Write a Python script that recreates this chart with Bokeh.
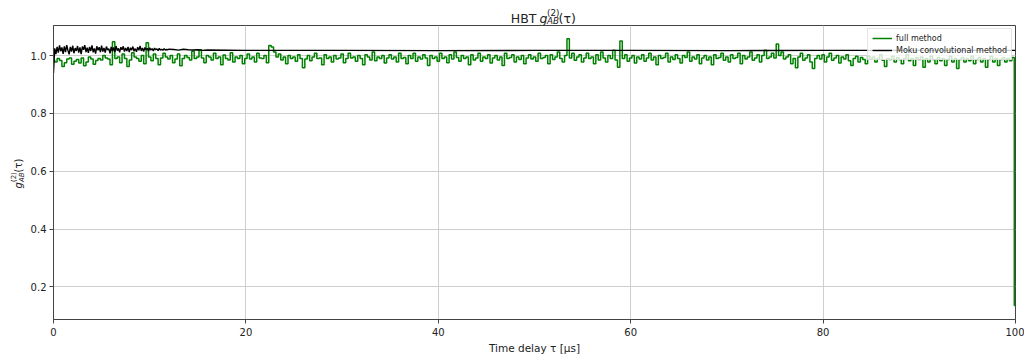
import math
from bokeh.plotting import figure
from bokeh.layouts import row, column
from bokeh.models import Range1d, Legend, LegendItem, FixedTicker, PrintfTickFormatter
from bokeh.core.properties import value
from bokeh.embed import file_html
from bokeh.resources import INLINE

# ---- data ----
# full method, sampled every 0.25 us from 0 to 100
green_y = [
    0.985, 0.978, 0.990, 0.983, 0.962, 0.975, 0.988, 0.992, 0.970, 0.980,
    0.986, 0.974, 0.992, 0.965, 0.978, 0.995, 0.988, 0.970, 0.983, 0.990,
    0.985, 1.000, 0.992, 0.988, 0.968, 1.048, 0.990, 0.995, 0.975, 1.005,
    0.990, 0.962, 0.985, 1.010, 0.995, 0.990, 0.980, 1.000, 0.972, 1.044,
    0.995, 0.982, 1.005, 0.990, 0.968, 0.992, 1.008, 0.995, 0.988, 1.000,
    0.975, 0.988, 1.005, 0.965, 0.990, 1.000, 0.993, 0.985, 1.015, 0.990,
    0.995, 1.020, 0.992, 0.975, 1.000, 0.995, 0.985, 1.008, 0.990, 0.995,
    0.968, 1.002, 0.990, 0.985, 1.010, 0.978, 0.995, 0.990, 1.000, 0.972,
    0.990, 1.005, 0.988, 0.995, 0.978, 1.008, 0.992, 0.990, 1.000, 0.975,
    1.035, 1.030, 1.012, 0.995, 1.005, 0.985, 0.995, 0.972, 1.000, 0.990,
    0.995, 0.980, 1.003, 0.990, 0.958, 0.988, 1.000, 0.982, 0.995, 1.008,
    0.990, 0.992, 0.968, 1.003, 0.990, 0.995, 0.978, 1.000, 0.988, 0.992,
    1.005, 0.975, 0.990, 1.008, 0.992, 0.995, 0.980, 1.000, 0.990, 0.968,
    1.003, 0.995, 0.985, 1.012, 0.982, 0.995, 0.990, 1.000, 0.974, 0.992,
    1.003, 0.988, 0.995, 0.978, 1.008, 0.990, 0.993, 0.972, 1.000, 0.990,
    1.008, 0.980, 0.995, 0.988, 1.003, 0.992, 0.966, 1.000, 0.990, 0.995,
    0.980, 1.008, 0.990, 0.995, 0.975, 1.003, 0.988, 1.012, 0.993, 0.980,
    1.000, 0.990, 0.995, 0.968, 1.003, 0.985, 0.992, 1.008, 0.980, 0.995,
    0.990, 1.003, 0.974, 0.992, 1.000, 0.985, 0.995, 0.966, 1.008, 0.990,
    0.993, 1.003, 0.978, 0.995, 0.986, 1.000, 0.972, 0.992, 1.003, 0.988,
    0.995, 0.980, 1.008, 0.990, 0.993, 1.000, 0.972, 1.003, 0.986, 0.995,
    1.012, 0.990, 0.978, 1.000, 1.058, 0.992, 1.008, 0.984, 0.995, 1.003,
    0.978, 0.992, 1.008, 0.990, 0.995, 0.972, 1.003, 0.985, 1.012, 0.992,
    0.978, 1.000, 0.990, 1.018, 0.985, 0.960, 1.050, 0.990, 1.003, 0.980,
    0.992, 1.000, 0.974, 0.995, 0.988, 1.003, 0.980, 0.992, 1.008, 0.985,
    0.995, 0.968, 1.000, 0.990, 0.993, 1.008, 0.978, 0.995, 0.986, 1.003,
    0.990, 0.974, 1.000, 0.993, 1.012, 0.980, 0.995, 0.988, 1.003, 0.972,
    0.992, 1.000, 0.985, 0.995, 0.968, 1.003, 0.990, 0.993, 1.008, 0.984,
    0.995, 0.978, 1.003, 0.990, 0.993, 1.008, 0.972, 1.000, 0.988, 0.995,
    1.012, 0.984, 0.992, 1.003, 0.978, 1.000, 1.018, 0.990, 0.995, 1.008,
    0.992, 1.040, 1.000, 1.012, 0.988, 0.995, 1.003, 0.972, 0.990, 0.958,
    0.995, 1.008, 0.984, 0.992, 1.003, 0.978, 0.955, 0.990, 1.000, 0.988,
    1.003, 0.978, 0.995, 1.008, 0.984, 0.992, 1.000, 0.974, 0.995, 0.988,
    1.003, 0.982, 0.966, 0.990, 0.998, 0.978, 0.993, 0.986, 0.972, 0.998,
    0.988, 0.995, 0.978, 0.990, 1.003, 0.984, 0.962, 0.990, 0.986, 0.998,
    0.978, 0.993, 0.986, 0.972, 0.990, 1.003, 0.982, 0.990, 0.966, 0.993,
    0.986, 0.995, 0.960, 0.990, 0.978, 0.998, 0.986, 0.972, 0.993, 0.982,
    0.990, 0.966, 0.986, 0.998, 0.978, 0.990, 0.955, 0.986, 0.993, 0.978,
    0.990, 0.982, 0.998, 0.972, 0.986, 0.993, 0.978, 0.990, 0.960, 0.986,
    0.998, 0.978, 0.990, 0.966, 0.986, 0.993, 0.978, 0.990, 0.982, 0.993,
    0.135,
]
green_x = [i * 0.25 for i in range(len(green_y))]

# Moku convolutional method: dense at the start, flat afterwards
black_y_head = [
    0.940, 1.025, 1.005, 1.030, 1.010, 1.035, 1.015, 1.028, 1.006, 1.032,
    1.012, 1.036, 1.018, 1.004, 1.030, 1.014, 1.034, 1.008, 1.026, 1.016,
    1.033, 1.010, 1.028, 1.005, 1.031, 1.020, 1.036, 1.012, 1.027, 1.009,
    1.030, 1.016, 1.035, 1.011, 1.025, 1.007, 1.032, 1.018, 1.029, 1.012,
    1.034, 1.014, 1.026, 1.010, 1.031, 1.019, 1.024, 1.008, 1.030, 1.015,
    1.028, 1.012, 1.033, 1.017, 1.025, 1.011, 1.029, 1.020, 1.032, 1.014,
    1.026, 1.016, 1.030, 1.012, 1.027, 1.019, 1.031, 1.015, 1.024, 1.013,
    1.029, 1.018, 1.033, 1.016, 1.026, 1.014, 1.028, 1.020, 1.025, 1.015,
    1.027, 1.019, 1.024, 1.016, 1.026, 1.020, 1.023, 1.017, 1.025, 1.019,
    1.022, 1.018, 1.024, 1.019, 1.021, 1.020, 1.022,
]
black_x_mid = [12.5, 13, 13.5, 14, 14.5, 15, 15.5, 16]
black_y_mid = [1.021, 1.019, 1.022, 1.020, 1.019, 1.020, 1.018, 1.019]
black_x_tail = [20, 30, 40, 50, 60, 70, 80, 90, 100]
black_y_tail = [1.018, 1.018, 1.017, 1.018, 1.018, 1.017, 1.018, 1.018, 1.018]
black_x = [i * 0.125 for i in range(len(black_y_head))] + black_x_mid + black_x_tail
black_y = black_y_head + black_y_mid + black_y_tail

x_ticks = [0, 20, 40, 60, 80, 100]
y_ticks = [0.2, 0.4, 0.6, 0.8, 1.0]
series_names = ["full method", "Moku convolutional method"]
x_label = "Time delay τ [μs]"

# ---- layout ----
W, H = 1024, 358
YL = 27                              # width of the strip holding the y label
TT = 25                              # height of the strip holding the title
FL, FR, FB = 52, 1015, 319           # frame edges in canvas pixels
FONT = "DejaVu Sans"
TXT = "#222222"

p = figure(width=W - YL, height=H - TT, x_range=Range1d(0, 100), y_range=Range1d(0.087, 1.104),
           output_backend="svg", toolbar_location=None,
           min_border_left=FL - YL, min_border_right=W - FR,
           min_border_top=0, min_border_bottom=H - FB)
p.background_fill_color = "white"
p.border_fill_color = "white"
p.outline_line_color = "#444444"
p.outline_line_width = 1

g = p.step(green_x, green_y, mode="center", line_color="#008000", line_width=1.5)
k = p.line(black_x, black_y, line_color="black", line_width=1.4)

for ax in (p.xaxis[0], p.yaxis[0]):
    ax.axis_line_color = "#444444"
    ax.major_tick_line_color = "#444444"
    ax.major_tick_out = 4
    ax.major_tick_in = 0
    ax.minor_tick_line_color = None
    ax.major_label_text_font = FONT
    ax.major_label_text_font_size = "10px"
    ax.major_label_text_color = TXT

p.xaxis.ticker = FixedTicker(ticks=x_ticks)
p.yaxis.ticker = FixedTicker(ticks=y_ticks)
p.yaxis.formatter = PrintfTickFormatter(format="%.1f")
p.xaxis.major_label_standoff = 4
p.yaxis.major_label_standoff = 3
p.xaxis.axis_label = x_label
p.xaxis.axis_label_text_font = FONT
p.xaxis.axis_label_text_font_size = "10.5px"
p.xaxis.axis_label_text_font_style = "normal"
p.xaxis.axis_label_text_color = TXT
p.xaxis.axis_label_standoff = 3

p.xgrid.ticker = FixedTicker(ticks=x_ticks)
p.ygrid.ticker = FixedTicker(ticks=y_ticks)
p.grid.grid_line_color = "#cfcfcf"
p.grid.grid_line_width = 1

legend = Legend(items=[LegendItem(label=series_names[0], renderers=[g]),
                       LegendItem(label=series_names[1], renderers=[k])],
                location="top_right")
legend.label_text_font = FONT
legend.label_text_font_size = "8px"
legend.label_text_color = TXT
legend.glyph_width = 20
legend.glyph_height = 10
legend.label_height = 10
legend.label_standoff = 4
legend.spacing = 2
legend.padding = 4
legend.margin = 3
legend.border_line_color = "#cccccc"
legend.background_fill_color = "white"
legend.background_fill_alpha = 0.8
p.add_layout(legend)


def strip(width, height, x0, x1, y_top, y_bottom):
    f = figure(width=width, height=height, x_range=Range1d(x0, x1),
               y_range=Range1d(y_bottom, y_top), output_backend="svg",
               toolbar_location=None, x_axis_type=None, y_axis_type=None,
               min_border=0)
    f.outline_line_color = None
    f.grid.visible = False
    f.background_fill_color = "white"
    f.border_fill_color = "white"
    return f


def put(f, text, cx, cy, size, angle=0.0, style="normal"):
    f.text(x=[cx], y=[cy], text=[text], text_font=value(FONT),
           text_font_size=value(f"{size}px"), text_font_style=value(style),
           text_color=TXT, angle=angle, text_align="left",
           text_baseline="alphabetic")


# title strip (data coordinates = canvas pixels)
tf = strip(W - YL, TT, YL, W, 0, TT)
put(tf, "HBT ", 501, 17.5, 12.5)
put(tf, "g", 530.6, 17.5, 12.5, style="italic")
put(tf, "(2)", 538.5, 12.5, 8.75)
put(tf, "AB", 538.5, 20.5, 8.75, style="italic")
put(tf, "(τ)", 550.5, 17.5, 12.5)

# y label strip (data coordinates = canvas pixels), text rotated
yf = strip(YL, H, 0, YL, 0, H)
ang = math.pi / 2
put(yf, "g", 18, 188, 10, ang, style="italic")
put(yf, "(2)", 13.5, 181.6, 7, ang)
put(yf, "AB", 21, 181.6, 7, ang, style="italic")
put(yf, "(τ)", 18, 172, 10, ang)

layout = row(yf, column(tf, p, spacing=0), spacing=0)
open("out.html", "w").write(file_html(layout, INLINE))
